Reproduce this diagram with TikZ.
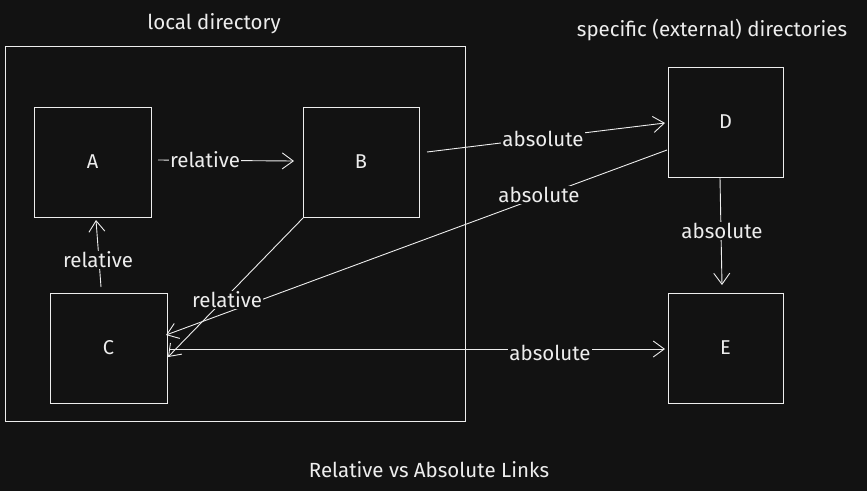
\documentclass[tikz,border=0pt]{standalone}
\usepackage{fontspec}
\setmainfont{Fira Sans}
\usetikzlibrary{arrows.meta}
\definecolor{bg}{HTML}{121212}
\definecolor{ink}{HTML}{EDEDED}
\tikzset{
  box/.style={draw=ink, line width=1pt, inner sep=0pt},
  lbl/.style={text=ink, font=\fontsize{20.5}{24}\selectfont, fill=bg, inner sep=1pt},
  ttl/.style={text=ink, font=\fontsize{20.5}{24}\selectfont},
  link/.style={draw=ink, line width=0.9pt, -{Straight Barb[length=11pt,width=16pt,line width=0.9pt]}},
  nm/.style={text=ink, font=\fontsize{20}{24}\selectfont}
}
\begin{document}
\begin{tikzpicture}[x=1pt,y=-1pt]
\fill[bg] (0,0) rectangle (867,491);
\useasboundingbox (0,0) rectangle (867,491);
% containers
\draw[box] (5,46) rectangle (465,421);
\node[ttl] (tl) at (214,24) {local directory};
\node[ttl] (tr) at (712,30) {specific (external) directories};
\node[ttl] (tb) at (429,470) {Relative vs Absolute Links};
% boxes
\node[box, minimum width=117pt, minimum height=110pt] (A) at (92.5,162) {};
\node[box, minimum width=116pt, minimum height=110pt] (B) at (361,162) {};
\node[box, minimum width=117pt, minimum height=110pt] (C) at (108.5,348) {};
\node[box, minimum width=115pt, minimum height=110pt] (D) at (725.5,122) {};
\node[box, minimum width=115pt, minimum height=110pt] (E) at (725.5,348) {};
\node[nm] at (A.center) {A};
\node[nm] at (B.center) {B};
\node[nm] at (C.center) {C};
\node[nm] at (D.center) {D};
\node[nm] at (E.center) {E};
% anchor coordinates
\coordinate (a1) at (158,160); \coordinate (b1) at (294,161);
\coordinate (b2) at (427,152); \coordinate (d1) at (665,123);
\coordinate (d2) at (667,150); \coordinate (c1) at (166,335);
\coordinate (b3) at (303,218); \coordinate (c2) at (168,357);
\coordinate (c3) at (170,349); \coordinate (e1) at (665,349);
\coordinate (d3) at (720,178); \coordinate (e2) at (722,285);
\coordinate (c4) at (101,287); \coordinate (a2) at (96,220);
% links
\draw[link] (a1) -- (b1);
\draw[link] (b2) -- (d1);
\draw[link] (d2) -- (c1);
\draw[link] (b3) -- (c2);
\draw[link] (c3) -- (e1);
\draw[link] (d3) -- (e2);
\draw[link] (c4) -- (a2);
% labels
\node[lbl] (l1) at (205,160) {relative};
\node[lbl] (l2) at (543,139) {absolute};
\node[lbl] (l3) at (539,195) {absolute};
\node[lbl] (l4) at (227,300) {relative};
\node[lbl] (l5) at (550,353) {absolute};
\node[lbl] (l6) at (722,231) {absolute};
\node[lbl] (l7) at (98,260) {relative};
\end{tikzpicture}
\end{document}
